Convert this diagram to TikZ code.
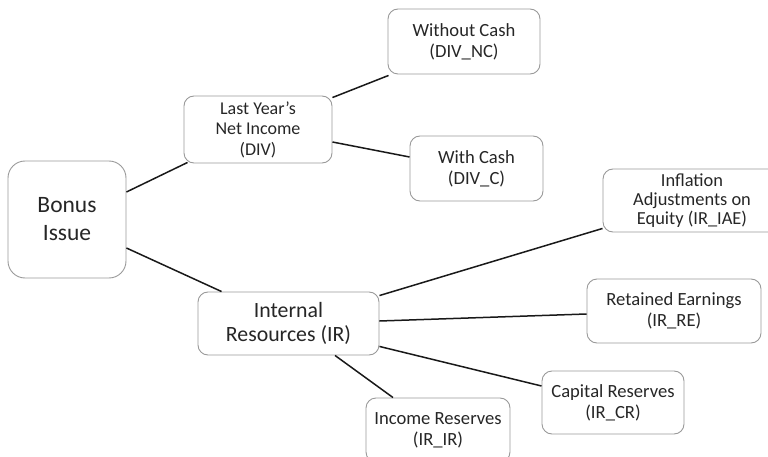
\documentclass[tikz,border=0pt]{standalone}
\usepackage{fontspec}
\setmainfont{Carlito}
\usetikzlibrary{calc}
\begin{document}
\begin{tikzpicture}[x=1pt,y=-1pt,
  box/.style={draw=black!40, line width=0.9pt, rounded corners=10pt, align=center,
    inner sep=0pt, text=black!85, font=\fontsize{18.6}{21}\selectfont},
  link/.style={draw=black!90, line width=1.5pt}]
\useasboundingbox (0,0) rectangle (768,457);
\node[box, rounded corners=17pt, minimum width=118, minimum height=117,
  font=\fontsize{23.5}{28}\selectfont] (bonus) at (67,219.5) {Bonus\\Issue};
\node[box, minimum width=148, minimum height=67, font=\fontsize{18}{20.5}\selectfont] (div) at (258,129.5) {Last Year’s\\Net Income\\(DIV)};
\node[box, minimum width=152, minimum height=65] (nc) at (464,41.5) {Without Cash\\(DIV\_NC)};
\node[box, minimum width=133, minimum height=65] (c) at (476.5,168.5) {With Cash\\(DIV\_C)};
\node[box, minimum width=181, minimum height=63,
  font=\fontsize{21.8}{24.5}\selectfont] (ir) at (288.5,323.5) {Internal\\Resources (IR)};
\node[box, minimum width=178, minimum height=63, font=\fontsize{18.4}{19}\selectfont] (iae) at (692,200.5) {Inflation\\Adjustments on\\Equity (IR\_IAE)};
\node[box, minimum width=174, minimum height=64] (re) at (674,311) {Retained Earnings\\(IR\_RE)};
\node[box, minimum width=142, minimum height=63] (cr) at (613,402.5) {Capital Reserves\\(IR\_CR)};
\node[box, minimum width=144, minimum height=64] (iir) at (438,430) {Income Reserves\\(IR\_IR)};
\draw[link] ([yshift=27.5pt]bonus.east) -- ([xshift=4pt,yshift=1pt]div.south west);
\draw[link] ([yshift=-28.5pt]bonus.east) -- ([xshift=24pt]ir.north west);
\draw[link] ([yshift=-2pt]div.north east) -- ([xshift=1pt,yshift=-1pt]nc.south west);
\draw[link] ([yshift=-12.5pt]div.east) -- ([yshift=11.5pt]c.west);
\draw[link] ([yshift=-4pt]ir.north east) -- ([yshift=4pt]iae.south west);
\draw[link] ([yshift=2.5pt]ir.east) -- ([yshift=-3pt]re.west);
\draw[link] ([yshift=9pt]ir.south east) -- ([yshift=16.5pt]cr.west);
\draw[link] ([xshift=46.5pt]ir.south) -- ([xshift=-45pt]iir.north);
\end{tikzpicture}
\end{document}
